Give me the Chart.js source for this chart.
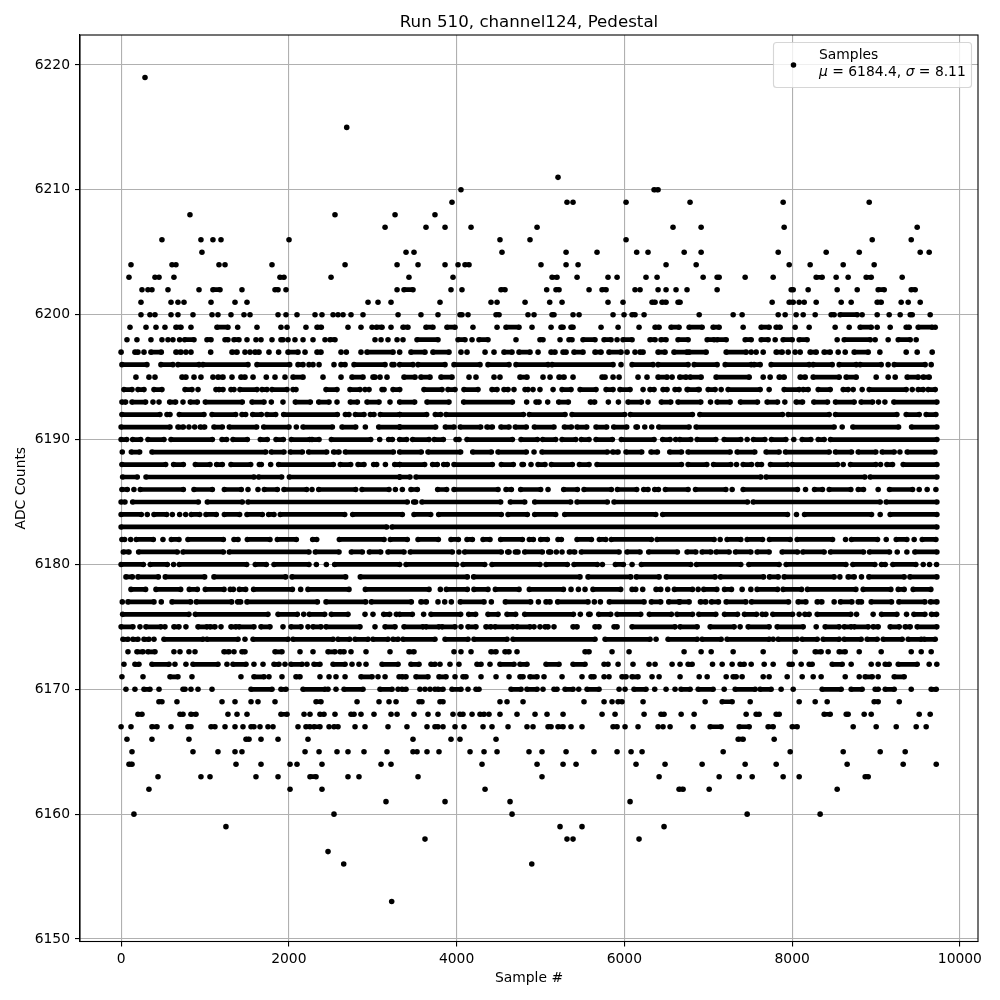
<!DOCTYPE html>
<html><head><meta charset="utf-8">
<style>html,body{margin:0;padding:0;background:#fff}canvas{display:block}</style>
<script src="https://cdn.jsdelivr.net/npm/chart.js@4"></script>
</head><body><canvas id="c" width="1000" height="1000"></canvas>
<script>
const titleText="Run 510, channel124, Pedestal";
const xLabel="Sample #";
const yLabel="ADC Counts";
const legendLine1="Samples";
const sampleMean="6184.4";
const sampleSigma="8.11";
// Each row is one ADC count. A number is one sample; [a,b] is an unbroken stretch of samples.
const r6219=[285];
const r6215=[2690];
const r6211=[5209];
const r6210=[4052,[6354,6402]];
const r6209=[3945,5316,5388,6020,6783,7893,8919];
const r6208=[821,2550,3266,3742];
const r6207=[3147,3635,3862,4172,4959,6580,6915,7905,9491];
const r6206=[487,952,1095,1191,2002,4517,4875,6020,8955,9420];
const r6205=[964,3397,3492,4541,5305,5674,6147,6282,6713,6915,7834,8406,8800,9527,9634];
const r6204=[118,607,654,1167,1239,1799,2670,3290,3540,3862,4017,[4100,4148],5006,5305,5448,6497,6856,7965,8215,8609,8978];
const r6203=[94,404,452,630,[1894,1942],2503,3432,3957,[5138,5197],5436,5805,5913,6258,6390,6939,[7106,7130],7440,7774,[8287,8358],8525,8668,[8883,8943],9312];
const r6202=[249,320,368,559,929,[1095,1179],1441,[1835,1871],1966,3290,[3373,3480],3933,4064,[4529,4577],5074,[5185,5221],5579,[5734,5782],6127,6187,6402,6497,6616,6747,7106,[7989,8013],8191,8537,8776,[9026,9098],[9420,9467]];
const r6201=[237,595,678,750,1072,1358,1501,2944,3063,3218,3802,4410,4482,4816,5110,5257,5805,5984,[6330,6366],[6449,6497],[6640,6664],7762,[7965,8013],8084,8144,8287,8585,8704,[9014,9062],9300,9384,9527];
const r6200=[237,344,404,595,678,857,1084,1155,1310,1465,1537,1871,1966,2097,2312,2395,2527,2586,2646,2741,2884,3302,3575,3778,[4040,4064],4136,[4470,4506],4851,4923,[5138,5161],5388,5460,5865,5996,[6092,6127],6235,6892,7297,7404,7834,7917,8048,8132,8275,[8466,8501],[8573,8776],8835,9014,9157,9288,[9408,9432],9646];
const r6199=[106,297,416,523,[654,714],833,[1143,1274],1390,1620,1906,1978,2204,[2336,2387],2705,2860,2992,[3043,3111],3218,[3361,3420],[3635,3718],[3885,3981],4195,4482,[4589,4744],4899,5126,[5245,5269],[5364,5388],5722,5925,6175,[6366,6414],[6557,6652],[6772,6927],[7058,7130],7416,[7631,7726],[7810,7857],8036,8203,8513,8680,[8811,8943],9014,9169,[9360,9396],[9503,9670],9706];
const r6198=[70,189,356,487,559,618,698,[758,869],[1024,1072],[1239,1274],[1346,1405],1501,1608,1668,1799,[1906,1930],1990,2073,2169,2288,2431,[2491,2550],3027,3099,3182,3290,3361,[3528,3778],[4017,4100],4184,[4267,4374],4708,[4994,5030],5233,[5340,5376],[5507,5650],[5758,5841],5913,[5984,6092],[6306,6366],[6437,6497],[6640,6760],[6987,7070],[7106,7214],[7440,7512],[7631,7714],7798,[7893,8001],[8084,8179],8537,[8621,8931],8990,9145,[9265,9408],9479];
const r6197=[0,[165,201],273,[356,479],[654,714],773,833,1068,[1322,1382],1477,1537,[1596,1644],1763,1878,[1990,2109],2193,[2336,2383],2622,2685,2860,[2932,3242],3321,[3456,3623],[3718,3909],4052,4124,4339,4446,[4565,4660],[4744,4875],4971,[5126,5173],[5269,5305],[5400,5507],[5650,5722],[5817,5960],6032,6127,[6187,6223],[6402,6485],[6592,6747],[6772,6975],[7214,7452],7512,7571,7655,[7810,7881],7953,8036,8096,[8215,8287],[8382,8454],8549,8633,[8740,8907],9046,9360,9491,9670];
const r6196=[[10,308],[475,618],[678,929],[976,1513],[1620,2010],[2109,2169],2240,2288,2360,2538,[2622,2670],[2777,3147],[3230,3254],[3321,3480],[3540,3862],[3969,4279],[4374,4625],[4708,5090],[5138,5865],5960,[6092,6342],[6402,6760],[6832,7106],[7202,7512],[7547,7619],[7750,8203],[8251,8478],[8561,8764],[8811,9062],9145,[9217,9586],9658];
const r6195=[177,332,404,[726,773],869,952,1095,[1155,1215],1322,[1429,1477],1573,1731,1835,1954,[2050,2169],2407,2622,[2753,2884],[3003,3027],3087,3170,[3373,3504],[3575,3683],[3814,3945],4148,4231,4446,4517,[4756,4839],5030,5114,[5221,5281],5388,[5734,5770],5865,5937,6163,6270,[6402,6509],6569,[6661,6736],[6784,6915],[7094,7488],7655,7738,[7846,7905],[8096,8156],[8251,8561],[8645,8764],9002,9145,9229,[9372,9503],[9563,9634]];
const r6194=[[34,130],[201,273],[392,487],[762,845],917,1131,[1167,1215],[1310,1346],[1417,1620],[1680,1739],[1799,1978],[2050,2085],[2443,2574],[2729,2848],2908,2956,[3111,3135],[3242,3322],[3611,3826],[3897,3981],[4088,4255],[4422,4482],[4565,4613],4684,[4816,4851],4911,4994,5150,[5257,5364],[5472,5662],[5782,5865],[5948,6068],6223,[6306,6354],[6461,6509],[6604,6652],[6759,6879],[6748,6892],[6999,7082],7154,[7237,7619],7726,[7905,8084],[8132,8191],[8311,8454],[8609,8668],8728,8835,[8919,9360],9432,[9503,9563],[9622,9706]];
const r6193=[[10,54],[130,292],380,452,[579,650],738,[825,909],[1004,1445],[1561,1704],1791,1930,[2077,2256],[2356,2479],2574,[2733,2817],[2932,3075],3206,[3321,3500],[3647,3909],[4084,4665],4835,[4947,4983],5086,[5217,5332],[5595,5646],5809,5929,[6044,6203],6282,[6441,6553],[6640,6911],7027,[7106,7261],[7384,7587],[7702,7826],7913,[8048,8124],[8259,8422],[8517,8740],[8823,8959],9030,9106,[9213,9726]];
const r6192=[[10,463],[547,583],[694,988],[1084,1366],[1441,1485],[1569,1672],[1739,1843],[1938,2578],[2674,2717],[2793,2896],[2972,3015],[3091,3322],[3321,3643],[3746,3810],[3874,4796],[4867,5293],[5376,6004],[6072,6811],[6900,7885],[7953,8442],[8517,9249],[9360,9515],[9598,9714]];
const r6191=[[0,583],[678,742],809,877,[944,996],[1107,1207],[1290,1616],[1700,2002],2089,[2169,2519],[2634,2797],2912,[3071,3322],[3321,3750],[3866,3969],[4044,4287],[4362,4426],[4529,4625],[4700,4831],[4927,5161],[5285,5368],[5436,5551],[5662,5789],[5873,6028],[6139,6155],6243,6326,[6410,6772],[6856,8501],8597,[8724,9269],[9424,9726]];
const r6190=[[0,66],[138,233],[320,511],[595,1088],[1203,1258],[1334,1505],[1660,1743],[1847,1934],[2030,2248],[2276,2360],[2507,2976],3083,[3190,3234],[3321,3404],[3476,3671],[3734,3842],[3993,4029],[4124,4665],[4768,4963],[5026,5181],[5257,5420],[5487,5579],[5662,5857],[5964,6354],[6457,6545],6612,[6661,6792],[6868,7090],[7190,7388],7464,[7539,7675],[7754,7925],8020,[8120,8223],[8311,8382],[8458,9726]];
const r6189=[14,[122,221],[368,1724],[1791,1942],[2018,2161],[2236,2451],[2534,2598],[2674,3246],[3321,3579],[3659,4048],[4192,4414],[4494,4831],4923,[5018,5797],[5861,5925],[6020,6207],[6318,6394],[6541,6681],[6760,7261],[7345,7555],[7690,7845],[7921,8442],[8517,8708],[8788,8998],[9074,9217],9285,[9372,9702]];
const r6188=[[10,531],[626,742],[885,1060],[1139,1207],[1310,1545],[1648,1672],1783,[1878,2530],[2614,2737],[2825,2896],[3011,3047],3151,[3262,3322],[3321,3619],[3714,3770],[3846,3889],[3969,4426],[4533,4676],[4780,4796],4887,[4971,5054],[5130,5380],[5464,5579],[5674,6681],[6760,6983],[7063,7269],7337,[7416,7516],[7587,7635],[7742,7945],[8001,8541],8609,[8696,8998],9054,[9130,9197],[9324,9726]];
const r6187=[[18,193],[297,1584],[1640,1914],[2006,3322],[3321,3444],[3516,7627],[7690,8867],[8931,9726]];
const r6186=[[10,74],153,[229,742],[869,1088],[1231,1433],1513,1632,[1708,1863],[1942,2212],2276,[2356,2797],[2872,3194],3270,3353,[3456,3532],[3774,3881],[3969,4494],[4589,4653],[4764,5002],5090,[5277,5440],[5519,5845],[5917,6147],[6231,6282],[6362,6406],[6489,6760],[6848,7210],7285,[7416,8064],8160,[8267,8362],[8442,8700],[8788,8851],9026,[9161,9436],9515,9610,9714];
const r6185=[[0,46],[138,921],[1028,1445],[1513,3412],[3488,3512],[3587,4525],[4641,4812],[4931,5360],[5436,5797],[5877,7468],[7536,9050],[9122,9726]];
const r6184=[[0,241],312,[392,543],611,698,770,[837,937],[1012,1135],[1231,1413],[1501,1684],[1759,1823],[1898,2666],[2761,3353],[3492,3691],[3786,4533],[4613,4843],[4931,5181],[5289,6374],[6457,7945],8052,[8148,8947],9050,[9169,9726]];
const r6183=[[0,3166],[3230,9726]];
const r6182=[[10,42],114,[181,384],499,[599,690],[797,1219],[1346,1394],[1505,1775],[1863,2089],[2284,2332],[2602,3135],[3210,3412],[3540,3782],[3933,4021],[4124,4188],[4315,4398],[4525,4784],[4867,4915],[5002,5082],[5209,5249],[5436,5607],[5702,5778],[5845,6322],[6390,7070],7142,[7225,7388],[7464,7647],[7730,7977],[8060,8482],8637,[8708,9018],9122,[9241,9368],9455,[9551,9714]];
const r6181=[[26,94],[209,670],[738,1219],[1290,2240],[2316,2598],[2745,2876],[2960,3095],[3182,3373],[3448,3949],4028,[4096,4533],[4609,4625],[4700,4732],[4812,5022],[5098,5122],5189,5257,[5344,5408],[5487,5937],[6032,6187],[6290,6632],[6748,6852],[6927,7031],[7094,7249],[7325,7508],[7583,7726],[7881,8064],[8128,8382],[8458,8851],[8923,9161],9253,9368,[9463,9726]];
const r6180=[[0,265],[348,551],626,[694,1497],[1600,1731],[1823,2240],2328,2447,[2546,3321],[3397,4001],[4076,4335],[4422,4994],[5066,5320],[5400,5678],5738,[5893,5988],6092,[6203,6792],[6860,7388],[7484,7845],[7929,8641],[8724,8986],[9066,9110],[9201,9475],9563,9638,9722];
const r6179=[[58,134],[201,444],[527,996],[1107,1962],[2038,2677],[2852,4128],[4203,5471],[5567,6076],[6143,6414],[6501,7082],[7146,7659],[7730,7834],[7905,8501],8569,[8668,8740],8827,[8915,9336],[9404,9726]];
const r6178=[[118,292],[416,710],[813,909],[1004,1227],[1302,1338],[1410,1485],[1580,2042],2141,[2228,2717],[2912,3671],3806,[3878,4128],[4207,4374],[4462,4744],[4867,5273],5364,5452,5531,[5626,5956],[6092,6135],6219,[6378,6433],6517,[6597,6812],6880,[6947,7102],[7194,7277],7404,7508,[7583,7826],[7893,8112],[8183,8760],[8847,9177],[9265,9336],[9443,9654]];
const r6177=[14,[82,392],479,[607,829],[897,1318],[1390,1425],[1501,2340],[2443,2916],[2984,3460],[3575,3639],3778,3858,3937,[4044,4327],4414,[4581,4883],4975,[5066,5114],[5205,5567],5642,5714,[5821,6235],[6322,6433],[6529,6652],[6661,6772],[6907,6971],[7039,7122],[7214,7448],[7516,7957],[8072,8164],[8299,8354],8501,[8577,8712],[8788,8827],[8943,9185],[9273,9583],[9650,9726]];
const r6176=[[18,809],[885,1751],[1871,2101],2177,[2244,2427],[2507,2705],2908,3003,[3131,3202],3282,[3321,3472],3607,[3695,4048],[4144,4227],[4374,4494],[4601,4704],[4812,5392],5475,[5575,5591],[5694,5837],[5913,6195],[6298,6561],[6628,6812],[6888,7090],[7194,7349],[7432,7575],[7643,7687],[7770,8005],8084,[8152,8203],[8299,8700],8768,8966,[9066,9249],9364,[9452,9583],[9662,9722]];
const r6175=[[0,141],225,[296,475],523,[630,690],773,[917,1024],[1060,1119],1191,[1310,1370],[1406,1584],[1668,1775],1930,[2026,2145],2228,[2288,2383],[2443,2848],3027,[3147,3266],[3373,3599],[3635,3790],[3826,3981],4052,[4136,4231],[4350,4410],[4458,4672],[4720,4875],4923,4994,[5054,5090],5161,[5388,5436],[5650,5698],[5877,5913],[6092,6604],[6664,6868],[7023,7309],7380,[7476,7726],[7822,8132],8287,[8394,8561],[8621,8704],[8740,8907],[8966,9026],[9169,9277],[9348,9408],[9491,9725]];
const r6174=[[22,82],[141,201],[273,332],392,[511,976],[1024,1394],1477,[1573,1990],[2050,2527],[2586,2725],[2789,2944],[3003,3182],[3242,3302],[3361,3742],[3862,4136],[4207,4601],[4672,5650],[5770,6306],6378,[6521,6868],[6927,7154],[7225,7726],7774,[7834,8060],[8120,8299],[8370,8561],[8621,8823],[8895,9014],[9086,9312],[9384,9539],[9575,9706]];
const r6173=[82,[189,261],[320,404],630,702,809,881,[1227,1286],1346,[1441,1477],[1835,1918],2133,2288,[2467,2550],[2610,2658],2741,2920,3206,[3432,3492],3969,4052,4172,[4410,4470],[4577,4625],4720,[5531,5579],5853,6056,6712,6915,7035,7297,7655,8036,[8275,8346],8430,[8561,8633],8800,9062,9420,9539,9658];
const r6172=[34,[165,213],[368,571],642,773,[857,1155],1262,[1334,1489],1584,1692,[1823,1882],1954,[2026,2157],2216,[2300,2371],[2527,2670],2753,2836,2920,[3111,3302],[3456,3552],[3695,3742],3802,3921,4028,[4243,4291],4398,[4517,4684],[4756,4839],[5066,5221],[5388,5531],5758,5805,5925,6103,6294,6366,6569,6664,[6760,6808],7051,7166,7285,[7380,7428],7512,7667,7774,[7965,8001],8108,[8203,8239],[8478,8597],8704,8943,9026,[9110,9157],[9265,9491],9634,9725];
const r6171=[10,261,[583,678],845,1429,[1584,1704],1763,1918,[2085,2133],2371,2479,2562,2670,[2860,2992],3063,3147,3314,[3349,3397],[3516,3659],[3790,3874],3981,[4076,4112],4291,4470,4625,[4756,4792],[4875,4959],5042,5257,5495,[5603,5638],5758,5817,[5972,6020],[6092,6163],6330,6414,6664,6892,6987,7214,[7297,7333],7404,7655,7726,7941,8120,8251,8346,8633,8800,[8871,8955],9026,[9217,9336]];
const r6170=[58,165,[273,344],452,[738,762],833,917,1084,[1549,1799],[1906,1966],[2169,2431],2467,2562,[2658,2884],[3087,3230],3302,[3349,3397],3563,3623,3683,3742,[3778,3838],[3945,4052],4136,[4231,4267],[4649,4768],[4839,4959],5030,[5161,5197],[5293,5388],5456,[5555,5698],5937,6008,[6115,6258],6362,6497,6604,[6676,6784],[6880,7058],7190,[7321,7559],[7619,7750],7869,8013,[8358,8585],[8704,8835],[8990,9026],[9110,9217],9420,[9658,9718]];
const r6169=[[451,487],666,1203,1358,1549,1632,1835,[2324,2383],2813,3075,3194,3278,[3552,3587],[3802,3838],4517,4601,4792,5519,5758,5853,[5925,5972],6223,6963,[7166,7285],7500,8084,8275,8418,[8978,9026],9277];
const r6168=[[201,249],[702,738],[833,893],1274,1382,1501,[1906,1978],2181,2252,[2371,2419],2550,[2741,2777],2860,3015,3218,3290,3492,3659,3778,3957,[4040,4076],4184,[4279,4327],4386,4517,4720,4935,5078,5269,5734,5889,6235,[6437,6473],6677,6832,7452,[7571,7607],[7810,7846],[8382,8454],[8645,8668],8859,8943,9515,9646];
const r6167=[0,118,[368,428],595,[797,833],[1072,1119],1239,1358,1453,[1549,1584],1656,1751,1811,2109,[2204,2252],[2300,2371],2479,[2538,2586],2789,2908,3182,3408,3647,[3742,3778],3838,3981,4088,4315,4422,4613,4839,4911,[5090,5126],[5209,5269],5364,5495,[5865,5913],6008,6163,6402,6461,6545,6820,[7023,7154],[7369,7488],[7714,7774],[8001,8060],8728,9002,9241,9479,9598];
const r6166=[70,368,809,[1489,1525],1668,1871,2228,3480,3933,4040,4470,[7357,7416],7786];
const r6165=[130,857,1155,1358,1441,2193,2360,2574,2705,2896,3170,3480,3528,3647,3790,4160,4327,4482,4863,5018,5305,5638,5913,6080,6211,7178,7977,8609,9050,9348];
const r6164=[[94,130],1370,1668,2014,2097,2395,3099,3218,4303,4959,5269,5424,6139,6485,6927,7440,7810,8656,9324,9718];
const r6163=[440,952,1060,1608,1871,[2252,2324],2705,2836,3540,5018,6414,7130,7369,7524,7893,8084,[8871,8907]];
const r6162=[332,2014,2395,4339,[6652,6700],7011,8537];
const r6161=[3158,3862,4637,6068];
const r6160=[153,2538,4661,7464,8334];
const r6159=[1250,5233,5495,6473];
const r6158=[3623,5316,5388,6175];
const r6157=[2467];
const r6156=[2654,4896];
const r6153=[3226];
const adcLevels=[6219,6215,6211,6210,6209,6208,6207,6206,6205,6204,6203,6202,6201,6200,6199,6198,6197,6196,6195,6194,6193,6192,6191,6190,6189,6188,6187,6186,6185,6184,6183,6182,6181,6180,6179,6178,6177,6176,6175,6174,6173,6172,6171,6170,6169,6168,6167,6166,6165,6164,6163,6162,6161,6160,6159,6158,6157,6156,6153];
const adcRows=[r6219,r6215,r6211,r6210,r6209,r6208,r6207,r6206,r6205,r6204,r6203,r6202,r6201,r6200,r6199,r6198,r6197,r6196,r6195,r6194,r6193,r6192,r6191,r6190,r6189,r6188,r6187,r6186,r6185,r6184,r6183,r6182,r6181,r6180,r6179,r6178,r6177,r6176,r6175,r6174,r6173,r6172,r6171,r6170,r6169,r6168,r6167,r6166,r6165,r6164,r6163,r6162,r6161,r6160,r6159,r6158,r6157,r6156,r6153];
const xTicks=[0,2000,4000,6000,8000,10000];
const yTicks=[6150,6160,6170,6180,6190,6200,6210,6220];

const pts=[];
adcRows.forEach((row,i)=>{
  const y=adcLevels[i];
  row.forEach(e=>{
    if(Array.isArray(e)){pts.push({x:e[0],y},{x:e[1],y});}
    else pts.push({x:e,y});
    pts.push({x:Array.isArray(e)?e[1]:e,y:null});
  });
});
const FONT="'DejaVu Sans'";
const frame={
  id:'frame',
  afterDraw(ch){
    const c=ch.ctx,a=ch.chartArea;
    c.save();
    c.strokeStyle='#000';c.lineWidth=1.1;
    c.strokeRect(a.left,a.top,a.right-a.left,a.bottom-a.top);
    // legend
    const lx=773.5,ly=42.5,lw=198,lh=45;
    c.beginPath();c.roundRect(lx,ly,lw,lh,3);
    c.fillStyle='rgba(255,255,255,0.8)';c.fill();
    c.strokeStyle='rgba(204,204,204,0.8)';c.lineWidth=1.1;c.stroke();
    c.fillStyle='#000';
    c.beginPath();c.arc(793.5,65,2.78,0,Math.PI*2);c.fill();
    c.textBaseline='alphabetic';c.textAlign='left';
    const reg="13.89px "+FONT, it="italic 13.89px "+FONT;
    c.font=reg;c.fillText(legendLine1,819,59);
    const parts=[["\u03bc",it],[" = "+sampleMean+", ",reg],["\u03c3",it],[" = "+sampleSigma,reg]];
    let x=819;
    parts.forEach(p=>{c.font=p[1];c.fillText(p[0],x,76);x+=c.measureText(p[0]).width;});
    c.restore();
  }
};
new Chart(document.getElementById('c'),{
  type:'scatter',
  data:{datasets:[{label:legendLine1,data:pts,showLine:true,spanGaps:false,
    borderColor:'#000',borderWidth:4.7,backgroundColor:'#000',
    pointRadius:2.78,pointBorderWidth:0,pointBackgroundColor:'#000',tension:0}]},
  options:{
    responsive:false,animation:false,devicePixelRatio:1,
    layout:{padding:{left:0,right:22,top:0,bottom:0}},
    plugins:{
      legend:{display:false},tooltip:{enabled:false},
      title:{display:true,text:titleText,color:'#000',fullSize:false,
        font:{family:FONT,size:16.67,weight:'normal',lineHeight:1.2},padding:{top:13,bottom:2}}
    },
    scales:{
      x:{type:'linear',min:-490,max:10216,
        afterBuildTicks(s){s.ticks=xTicks.map(v=>({value:v}));},
        afterFit(s){s.height=58.5;},
        grid:{color:'#b0b0b0',lineWidth:1.1,tickColor:'#000',tickLength:5,tickWidth:1.1},
        border:{color:'#000',width:1.1},
        ticks:{color:'#000',maxRotation:0,autoSkip:false,padding:5,
          font:{family:FONT,size:13.89},callback:v=>String(v)},
        title:{display:true,text:xLabel,color:'#000',font:{family:FONT,size:13.89},padding:{top:4,bottom:13}}},
      y:{type:'linear',min:6149.8,max:6222.4,
        afterBuildTicks(s){s.ticks=yTicks.map(v=>({value:v}));},
        afterFit(s){s.width=80;},
        grid:{color:'#b0b0b0',lineWidth:1.1,tickColor:'#000',tickLength:5,tickWidth:1.1},
        border:{color:'#000',width:1.1},
        ticks:{color:'#000',autoSkip:false,padding:5,
          font:{family:FONT,size:13.89},callback:v=>String(v)},
        title:{display:true,text:yLabel,color:'#000',font:{family:FONT,size:13.89},padding:{top:13,bottom:0}}}
    }
  },
  plugins:[frame]
});
</script></body></html>
